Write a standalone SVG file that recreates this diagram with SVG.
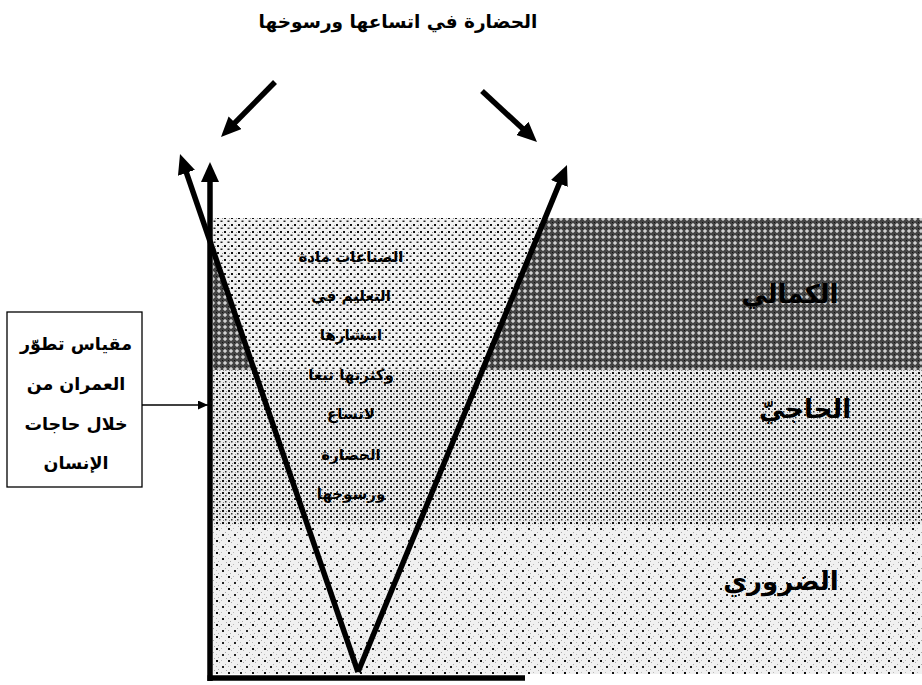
<svg xmlns="http://www.w3.org/2000/svg" width="922" height="685" viewBox="0 0 922 685">
<style>
.ar{font-family:"DejaVu Sans","Noto Sans",sans-serif;font-weight:bold;fill:#000;text-anchor:middle;direction:rtl}
.thick{stroke:#000;stroke-width:5.5;fill:none}
</style>
<defs>
<pattern id="pDark" width="6" height="6" patternUnits="userSpaceOnUse">
<rect width="6" height="6" fill="#444"/>
<rect x="2.5" y="1" width="1" height="4" fill="#fff"/>
<rect x="1" y="2.5" width="4" height="1" fill="#fff"/>
<rect x="0" y="0" width="1" height="1" fill="#111"/>
</pattern>
<pattern id="pMid" width="6" height="6" patternUnits="userSpaceOnUse">
<rect width="6" height="6" fill="#ebebeb"/>
<rect x="0" y="0" width="2" height="2" fill="#111"/>
<rect x="3" y="3" width="1.5" height="1.5" fill="#333"/>
<rect x="4" y="1" width="1" height="1" fill="#888"/>
<rect x="1" y="4" width="1" height="1" fill="#888"/>
</pattern>
<pattern id="pVee" width="7" height="7" patternUnits="userSpaceOnUse">
<rect width="7" height="7" fill="#f2f2f2"/>
<rect x="0" y="0" width="2" height="2" fill="#111"/>
<rect x="3.5" y="3.5" width="2" height="1.5" fill="#222"/>
<rect x="5" y="1" width="1" height="1" fill="#999"/>
</pattern>
<pattern id="pLight" width="12" height="12" patternUnits="userSpaceOnUse">
<rect width="12" height="12" fill="#f0f0f0"/>
<rect x="0" y="0" width="2" height="2" fill="#111"/>
<rect x="6" y="6" width="2" height="2" fill="#222"/>
<rect x="3" y="2" width="1" height="1" fill="#aaa"/>
<rect x="9" y="4" width="1" height="1" fill="#aaa"/>
<rect x="2" y="9" width="1" height="1" fill="#aaa"/>
<rect x="10" y="10" width="1" height="1" fill="#aaa"/>
<rect x="5" y="0" width="1" height="1" fill="#bbb"/>
<rect x="0" y="6" width="1" height="1" fill="#bbb"/>
</pattern>
<marker id="big" markerUnits="userSpaceOnUse" markerWidth="20" markerHeight="18" viewBox="0 0 20 18" refX="8" refY="9" orient="auto">
<path d="M0,0 L20,9 L0,18 Z" fill="#000"/>
</marker>
<marker id="small" markerUnits="userSpaceOnUse" markerWidth="10" markerHeight="9" viewBox="0 0 10 9" refX="10" refY="4.5" orient="auto">
<path d="M0,0 L10,4.5 L0,9 Z" fill="#000"/>
</marker>
</defs>
<rect width="922" height="685" fill="#fff"/>
<g id="bands">
<rect id="band-kamali" x="213" y="218" width="709" height="152" fill="url(#pDark)"/>
<polygon id="vee-top" points="213,218 545,218 482,370 254.5,370 213,250" fill="url(#pVee)"/>
<rect id="band-haji" x="213" y="370" width="709" height="155" fill="url(#pMid)"/>
<rect id="band-daruri" x="213" y="525" width="709" height="149" fill="url(#pLight)"/>
</g>
<g id="connectors">
<line class="thick" x1="275" y1="82" x2="229.4" y2="128.4" marker-end="url(#big)"/>
<line class="thick" x1="482" y1="91" x2="528.2" y2="133.8" marker-end="url(#big)"/>
<line class="thick" x1="358" y1="672" x2="183.9" y2="165.3" marker-end="url(#big)"/>
<line class="thick" x1="210" y1="681" x2="210" y2="174" marker-end="url(#big)"/>
<line class="thick" x1="358" y1="672" x2="562.4" y2="176.1" marker-end="url(#big)"/>
<line class="thick" x1="207.5" y1="678" x2="525" y2="678"/>
<line stroke="#000" stroke-width="1.3" x1="142" y1="405" x2="208" y2="405" marker-end="url(#small)"/>
</g>
<g id="title">
<text class="ar" x="398" y="28" font-size="18.5">الحضارة في اتساعها ورسوخها</text>
</g>
<g id="box">
<rect x="7" y="312" width="135" height="175" fill="#fff" stroke="#000" stroke-width="1.3"/>
<text class="ar" x="76" y="350" font-size="17.5">مقياس تطوّر</text>
<text class="ar" x="76" y="390" font-size="17.5">العمران من</text>
<text class="ar" x="76" y="430" font-size="17.5">خلال حاجات</text>
<text class="ar" x="76" y="469" font-size="17.5">الإنسان</text>
</g>
<g id="vee-text">
<text class="ar" x="351" y="262" font-size="15">الصناعات مادة</text>
<text class="ar" x="351" y="301" font-size="15">التعليم في</text>
<text class="ar" x="351" y="340" font-size="15">انتشارها</text>
<text class="ar" x="351" y="380" font-size="15">وكثرتها تبعا</text>
<text class="ar" x="351" y="419" font-size="15">لاتساع</text>
<text class="ar" x="351" y="460" font-size="15">الحضارة</text>
<text class="ar" x="351" y="499" font-size="15">ورسوخها</text>
</g>
<g id="label-kamali"><text class="ar" x="790" y="303" font-size="26">الكمالي</text></g>
<g id="label-haji"><text class="ar" x="805" y="418" font-size="26">الحاجيّ</text></g>
<g id="label-daruri"><text class="ar" x="781" y="590" font-size="26">الضروري</text></g>
</svg>
